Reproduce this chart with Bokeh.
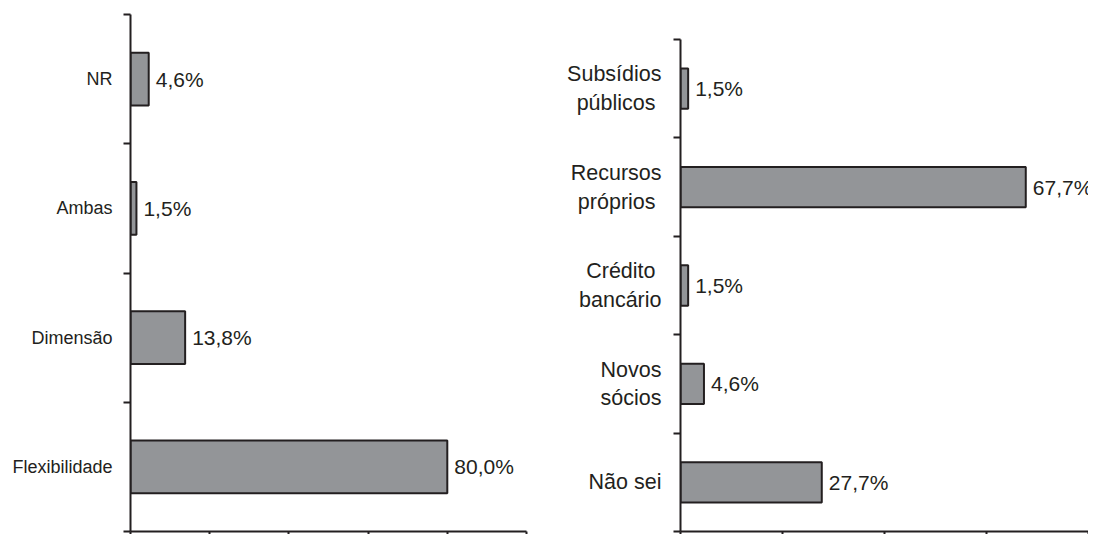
from bokeh.plotting import figure
from bokeh.models import ColumnDataSource, Range1d, FixedTicker
from bokeh.layouts import row
from bokeh.embed import file_html
from bokeh.resources import INLINE
from bokeh.core.properties import value

# ---- data (bottom to top) ----
left_categories = ["Flexibilidade", "Dimensão", "Ambas", "NR"]
left_values = [80.0, 13.8, 1.5, 4.6]
left_ticks = [0, 20, 40, 60, 80, 100]

right_categories = ["Não sei", "Novos\nsócios", "\u00a0Crédito\u00a0\nbancário",
                    "Recursos\npróprios\u00a0", "Subsídios\npúblicos\u00a0"]
right_values = [27.7, 4.6, 1.5, 67.7, 1.5]
right_ticks = [0, 20, 40, 60, 80]

FONT = "Liberation Sans"
DARK = "#231f20"
BAR = "#939598"


def fmt(v):
    return f"{v:.1f}%".replace(".", ",")


def make(cats, vals, xticks, cat_font, standoff, min_left, min_right, fw, fh, top_pad):
    n = len(cats)
    ys = [i + 0.5 for i in range(n)]
    src = ColumnDataSource(dict(y=ys, v=vals, lab=[fmt(v) for v in vals]))
    p = figure(output_backend="svg", toolbar_location=None,
               frame_width=fw, frame_height=fh,
               x_range=Range1d(xticks[0], xticks[-1]),
               y_range=Range1d(0, n + top_pad),
               min_border_left=min_left, min_border_right=min_right,
               min_border_top=14, min_border_bottom=0)
    p.outline_line_color = None
    p.grid.visible = False
    p.background_fill_color = "white"
    p.border_fill_color = "white"

    p.hbar(y="y", right="v", left=0, height=0.41, source=src,
           fill_color=BAR, line_color=DARK, line_width=2)
    p.text(x="v", y="y", text="lab", source=src, x_offset=7,
           text_baseline="middle", text_align="left",
           text_font=value(FONT), text_font_size="21px", text_color=DARK)

    # y axis: labels at centres, ticks at category boundaries
    ya = p.yaxis[0]
    ya.bounds = (0, n)
    ya.ticker = FixedTicker(ticks=ys, minor_ticks=list(range(n + 1)))
    ya.major_label_overrides = {y: c for y, c in zip(ys, cats)}
    ya.major_tick_out = 0
    ya.major_tick_in = 0
    ya.minor_tick_out = 7
    ya.minor_tick_in = 0
    ya.minor_tick_line_width = 2
    ya.minor_tick_line_color = DARK
    ya.axis_line_width = 2
    ya.axis_line_color = DARK
    ya.major_label_standoff = standoff
    ya.major_label_text_font = FONT
    ya.major_label_text_font_size = cat_font
    ya.major_label_text_color = DARK
    ya.major_label_text_line_height = 1.2

    xa = p.xaxis[0]
    xa.ticker = FixedTicker(ticks=xticks)
    xa.major_label_overrides = {t: "" for t in xticks}
    xa.major_tick_out = 3
    xa.major_tick_in = 0
    xa.minor_tick_out = 0
    xa.minor_tick_in = 0
    xa.major_tick_line_width = 2
    xa.major_tick_line_color = DARK
    xa.axis_line_width = 2
    xa.axis_line_color = DARK
    xa.major_label_text_font_size = "1px"
    xa.major_label_standoff = 0
    return p


# left frame: x 130..526, y 14..532 ; right axis spans y 39..532, x 680..1088
p1 = make(left_categories, left_values, left_ticks, "18px", 11, 130, 34, 396, 517, 0.0)
p2 = make(right_categories, right_values, right_ticks, "21.5px", 12, 120, 0, 408, 517,
          5 * 25.0 / 492.0)

p = row(p1, p2)
open("out.html", "w").write(file_html(p, INLINE))
